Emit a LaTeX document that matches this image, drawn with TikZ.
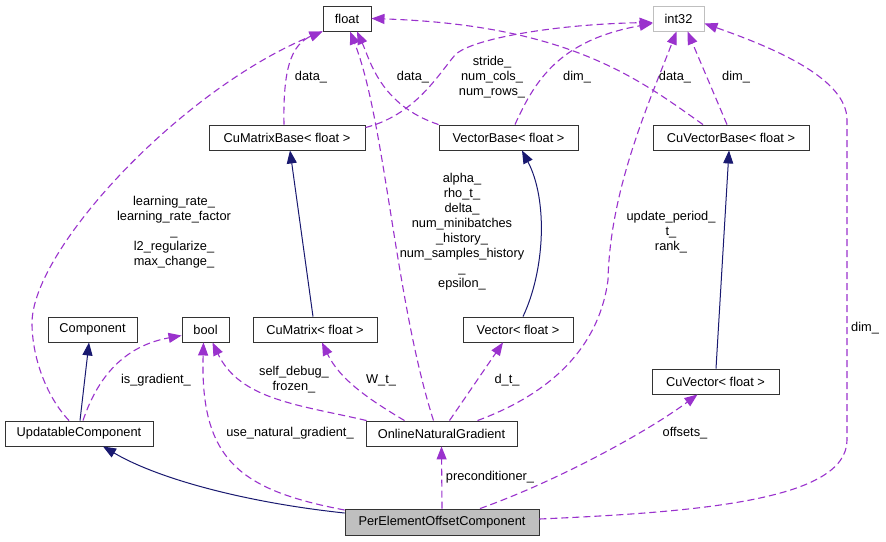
\documentclass[tikz,border=0pt]{standalone}
\usepackage{fontspec}
\setmainfont{Liberation Sans}
\usetikzlibrary{arrows.meta}
\definecolor{navyc}{HTML}{191970}
\definecolor{purp}{HTML}{9A32CD}
\definecolor{grayb}{HTML}{BFBFBF}
\begin{document}
\begin{tikzpicture}[x=1pt,y=-1pt,
  every node/.style={font=\fontsize{12.8}{15}\selectfont},
  cls/.style={draw=black!80, line width=0.9pt, minimum height=25pt, inner sep=0pt, fill=white},
  lbl/.style={align=center, inner sep=0pt},
  inh/.style={draw=navyc, line width=1pt, -{Triangle[length=13pt,width=10pt]}},
  use/.style={draw=purp, line width=1.1pt, dash pattern=on 7pt off 4pt, -{Triangle[length=13pt,width=10pt]}},
]
\useasboundingbox (0,0) rectangle (886,541);
\fill[white] (0,0) rectangle (886,541);

% nodes
\node[cls, minimum width=48pt] (flt) at (347,18.5) {float};
\node[cls, minimum width=51pt, draw=grayb] (i32) at (678.5,18.5) {int32};
\node[cls, minimum width=156pt] (cmb) at (287,137.5) {CuMatrixBase< float >};
\node[cls, minimum width=139pt] (vb) at (508.5,137.5) {VectorBase< float >};
\node[cls, minimum width=156pt] (cvb) at (731,137.5) {CuVectorBase< float >};
\node[cls, minimum width=89pt] (comp) at (92.5,329.5) {Component};
\node[cls, minimum width=47pt] (bool) at (205.5,329.5) {bool};
\node[cls, minimum width=124pt] (cm) at (315,329.5) {CuMatrix< float >};
\node[cls, minimum width=110pt] (vec) at (518,329.5) {Vector< float >};
\node[cls, minimum width=127pt] (cv) at (715.5,381.5) {CuVector< float >};
\node[cls, minimum width=148pt] (upd) at (79,433.5) {UpdatableComponent};
\node[cls, minimum width=151pt] (ong) at (441.5,433.5) {OnlineNaturalGradient};
\node[cls, minimum width=194pt, minimum height=26pt, fill=grayb] (peoc) at (442,522) {PerElementOffsetComponent};

% inheritance
\draw[inh] ([xshift=1pt]upd.north) -- ([xshift=-3.5pt]comp.south);
\draw[inh] ([yshift=9pt]peoc.west) .. controls (250,503) and (160,480) .. ([xshift=24pt]upd.south);
\draw[inh] ([xshift=-2pt]cm.north) -- ([xshift=3pt]cmb.south);
\draw[inh] ([xshift=5pt]vec.north) .. controls (545,270) and (548,200) .. ([xshift=13.5pt]vb.south);
\draw[inh] ([xshift=0.5pt]cv.north) -- ([xshift=-2pt]cvb.south);

% usage
\draw[use] ([xshift=-10pt]upd.north) .. controls (45,395) and (32,355) .. (32,323)
  .. controls (32,250) and (180,90) .. (flt.south west);
\draw[use] ([xshift=-3pt]cmb.north) .. controls (283,72) and (290,45) .. (flt.south west);
\draw[use] ([yshift=-3pt]cmb.north east) .. controls (415,115) and (438,75) .. (455,55)
  .. controls (472,38) and (560,24) .. ([yshift=-4pt]i32.west);
\draw[use] (vb.north west) .. controls (380,105) and (370,60) .. ([xshift=10pt]flt.south);
\draw[use] ([xshift=-8pt]ong.north) .. controls (395,300) and (385,120) .. ([xshift=3pt]flt.south);
\draw[use] ([xshift=-28pt]cvb.north) .. controls (640,80) and (570,25) .. (flt.east);
\draw[use] ([xshift=6.5pt]vb.north) .. controls (535,80) and (560,40) .. ([yshift=-5pt]i32.west);
\draw[use] ([xshift=-4pt]cvb.north) -- ([xshift=9pt]i32.south);
\draw[use] ([xshift=36pt]ong.north) .. controls (560,390) and (600,340) .. (608,280)
  .. controls (610,190) and (648,105) .. ([xshift=-2pt]i32.south);
\draw[use] ([yshift=3pt]peoc.east) .. controls (700,512) and (847,500) .. (847,440)
  -- (847,120) .. controls (847,80) and (780,50) .. ([yshift=-5pt]i32.east);
\draw[use] ([xshift=4pt]upd.north) .. controls (100,370) and (130,345) .. ([yshift=-6pt]bool.west);
\draw[use] ([yshift=12pt]peoc.west) .. controls (240,490) and (200,460) .. ([xshift=-2pt]bool.south);
\draw[use] ([xshift=1pt]ong.north west) .. controls (300,405) and (240,400) .. ([xshift=7pt]bool.south);
\draw[use] ([xshift=-37pt]ong.north) .. controls (370,400) and (340,380) .. ([xshift=7pt]cm.south);
\draw[use] ([xshift=8pt]ong.north) -- ([xshift=-15pt]vec.south);
\draw[use] (peoc.north) -- (ong.south);
\draw[use] ([xshift=38pt]peoc.north) .. controls (560,480) and (650,430) .. ([xshift=-18pt]cv.south);

% labels
\node[lbl] (l_lr) at (174,232) {learning\_rate\_\\learning\_rate\_factor\\\_\\l2\_regularize\_\\max\_change\_};
\node[lbl] (l_d1) at (311,77) {data\_};
\node[lbl] (l_d2) at (413,77) {data\_};
\node[lbl] (l_st) at (492,77) {stride\_\\num\_cols\_\\num\_rows\_};
\node[lbl] (l_dm1) at (577,77) {dim\_};
\node[lbl] (l_d3) at (675,77) {data\_};
\node[lbl] (l_dm2) at (736,77) {dim\_};
\node[lbl] (l_al) at (462,232) {alpha\_\\rho\_t\_\\delta\_\\num\_minibatches\\\_history\_\\num\_samples\_history\\\_\\epsilon\_};
\node[lbl] (l_up) at (671,232) {update\_period\_\\t\_\\rank\_};
\node[lbl] (l_dm3) at (865,328) {dim\_};
\node[lbl] (l_ig) at (156,380) {is\_gradient\_};
\node[lbl] (l_un) at (290,433) {use\_natural\_gradient\_};
\node[lbl] (l_sd) at (294,380) {self\_debug\_\\frozen\_};
\node[lbl] (l_wt) at (381,380) {W\_t\_};
\node[lbl] (l_dt) at (507,380) {d\_t\_};
\node[lbl] (l_of) at (685,433) {offsets\_};
\node[lbl] (l_pc) at (490,477) {preconditioner\_};
\end{tikzpicture}
\end{document}
